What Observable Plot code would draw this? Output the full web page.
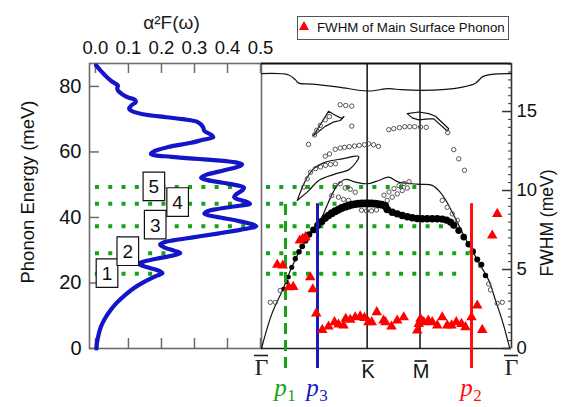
<!DOCTYPE html>
<html><head><meta charset="utf-8">
<script src="https://cdn.jsdelivr.net/npm/d3@7"></script>
<script src="https://cdn.jsdelivr.net/npm/@observablehq/plot@0.6"></script>
<style>
html,body{margin:0;padding:0;background:#fff;}
#chart{position:relative;width:567px;height:407px;overflow:hidden;background:#fff;}
#chart svg{position:absolute;left:0;top:0;}
#legend{position:absolute;left:297px;top:16px;width:212px;height:24px;border:1.5px solid #555;box-sizing:border-box;background:#fff;font:13.3px "Liberation Sans",Arial,sans-serif;color:#111;}
#legend .tri{position:absolute;left:1px;top:4px;width:0;height:0;border-left:5px solid transparent;border-right:5px solid transparent;border-bottom:9px solid #ff0000;}
#legend .txt{position:absolute;left:19px;top:3px;white-space:nowrap;}
</style></head><body><div id="chart"><div id="legend"><span class="tri"></span><span class="txt">FWHM of Main Surface Phonon</span></div></div>
<script>
// ---------- data ----------
const a2fEnergy = [0,2,4,6.5,9,11.6,14,16.7,18.5,20.2,21.5,22.3,23.0,23.6,24.6,25.8,26.5,27.4,28.4,29.1,29.8,30.9,31.7,32.3,33.0,34.0,35.0,36.0,36.7,37.3,37.9,39.0,40.2,41.1,41.9,42.6,43.5,44.2,44.9,45.6,46.2,47.2,48.3,49.1,49.8,50.6,51.4,52.1,53.0,54.4,55.6,56.2,56.8,57.6,58.5,59.4,60.3,61.5,62.8,63.7,64.5,65.3,66.4,67.6,69.1,70.0,70.6,71.6,72.5,73.2,74.3,75.2,75.9,76.6,77.3,78.8,79.5,80.3,81.5,82.8,84.9,86.4];
const a2fValue = [0.003,0.005,0.009,0.016,0.028,0.045,0.065,0.094,0.117,0.145,0.170,0.188,0.203,0.195,0.165,0.130,0.145,0.185,0.235,0.257,0.240,0.208,0.196,0.205,0.235,0.300,0.365,0.425,0.465,0.487,0.475,0.430,0.365,0.330,0.340,0.370,0.430,0.468,0.455,0.430,0.420,0.428,0.445,0.450,0.430,0.385,0.340,0.320,0.335,0.390,0.435,0.444,0.425,0.350,0.230,0.168,0.180,0.220,0.290,0.325,0.357,0.350,0.330,0.326,0.310,0.265,0.215,0.140,0.110,0.102,0.110,0.122,0.120,0.100,0.086,0.068,0.066,0.068,0.050,0.035,0.015,0.002];

const alphaTicks = [0, 0.1, 0.2, 0.3, 0.4, 0.5];
const energyTicks = [0, 20, 40, 60, 80];
const fwhmTicks = [0, 5, 10, 15];

const peakLabels = ["1","2","3","4","5"];
const peakEnergy = [22.8, 29.1, 37.3, 44.2, 49.3];
const peakAlpha = [0.204, 0.258, 0.488, 0.468, 0.450];
const boxAlpha = [0.035, 0.098, 0.181, 0.249, 0.177];
const boxEnergy = [23.0, 29.7, 37.8, 44.7, 49.5];
const peakLineEnd = [0.79, 0.816, 0.756, 0.37, 0.61];

const symNames = ["Γ","K","M","Γ"];
const symPos = [0, 0.4226, 0.634, 1];

const cutNames = ["1","3","2"];
const cutPos = [0.096, 0.224, 0.84];
const cutTop = 44.2;

const topBandQ = [0,0.109,0.136,0.149,0.203,0.309,0.425,0.509,0.56,0.637,0.723,0.804,0.856,0.885,0.92,1];
const topBandE = [83.9,83.5,82.0,81.0,80.7,79.8,78.6,79.3,79.0,78.8,79.0,79.8,81.0,83.0,83.7,83.9];

const domeQ = [0,0.041,0.088,0.121,0.16,0.20,0.235,0.261,0.285,0.305,0.335,0.376,0.425,0.469,0.509,0.549,0.603,0.637,0.683,0.716,0.736,0.763,0.789,0.816,0.843,0.869,0.909,0.936,0.963,0.983,0.993];
const domeE = [0,10.5,18.5,24.8,30.8,35.5,39.0,43.5,47.5,50.0,51.6,50.8,50.3,51.3,52.3,50.8,50.3,50.1,49.8,47.6,45.4,41.6,37.6,33.5,29.9,26.2,20.8,14.7,8.5,3.0,0];

const lensAQ = [0.208,0.238,0.268,0.30,0.32,0.33,0.315,0.29,0.255,0.225,0.208];
const lensAE = [65.0,68.7,72.4,71.0,70.3,70.8,69.6,69.2,67.8,66.0,65.0];
const lensBQ = [0.143,0.176,0.209,0.256,0.323,0.389,0.352,0.296,0.229,0.189,0.143];
const lensBE = [45.2,51.3,54.9,56.9,57.9,58.6,54.7,53.3,51.3,48.2,45.2];
const lensCQ = [0.583,0.629,0.669,0.696,0.749,0.743,0.689,0.669,0.629,0.603,0.583];
const lensCE = [71.7,72.2,71.7,70.9,67.1,66.4,70.1,70.1,69.8,70.4,71.7];

const openQ = [0.315,0.337,0.361,0.361,0.188,
  0.212,0.221,0.235,0.255,0.272,
  0.255,0.272,0.295,0.315,0.332,0.351,0.372,0.391,0.412,0.428,0.448,0.468,
  0.509,0.529,0.552,0.573,0.593,0.613,0.636,0.659,
  0.745,0.769,0.789,0.812,
  0.169,0.183,0.196,0.216,0.236,0.256,0.276,0.296,
  0.295,0.315,0.335,0.355,0.375,
  0.281,0.308,0.328,0.348,
  0.40,0.42,0.44,0.46,
  0.49,0.51,0.53,0.55,0.57,0.59,
  0.503,0.523,0.543,0.563,0.583,
  0.723,0.743,0.763,0.783,
  0.876,0.909,0.916,0.943,0.963,
  0.035,0.055,0.075];
const openE = [74.4,74.2,74.0,67.9,62.3,
  65.2,66.6,68.1,69.8,70.8,
  58.7,59.4,60.8,61.2,61.4,61.6,61.8,62.0,62.2,62.5,62.2,61.7,
  66.8,67.1,67.4,67.7,67.7,67.7,67.6,67.5,
  65.9,60.7,57.9,54.4,
  49.3,51.8,53.8,54.9,55.4,55.9,56.2,56.4,
  49.8,50.3,49.0,48.6,47.7,
  46.7,46.2,45.5,45.2,
  42.2,42.0,42.0,42.3,
  46.8,47.8,48.8,49.7,50.4,50.9,
  45.2,46.2,47.2,48.2,49.0,
  45.2,43.1,41.1,39.1,
  25.3,19.7,17.9,13.8,14.1,
  14.1,14.1,17.7];

const surfQ = [0.088,0.101,0.108,0.121,0.135,0.150,0.163,0.176,0.190,0.208,0.225,0.241,0.255,0.268,0.281,0.295,0.308,0.321,0.335,0.348,0.361,0.375,0.388,0.401,0.415,0.428,0.441,0.455,0.468,0.481,0.495,0.503,0.523,0.543,0.563,0.583,0.603,0.623,0.643,0.663,0.683,0.703,0.723,0.740,0.756,0.769,0.789,0.809,0.829,0.845,0.863,0.880,0.896];
const surfE = [18.2,20.3,21.8,24.8,27.4,29.5,31.2,33.0,34.8,36.2,37.6,38.8,39.8,40.6,41.3,41.9,42.4,42.9,43.3,43.6,43.9,44.1,44.2,44.3,44.3,44.3,44.3,44.2,44.1,43.9,43.5,42.4,41.6,41.1,40.6,40.2,39.9,39.7,39.6,39.6,39.6,39.6,39.5,39.2,38.6,37.6,36.0,34.0,31.8,29.6,27.2,25.6,22.3];
const surfWeight = [0.15,0.15,0.2,0.25,0.3,0.35,0.4,0.5,0.6,0.7,0.8,0.85,0.9,0.95,1,1,1,1,1,1,1,1,1,1,1,1,1,1,1,1,1,0.9,0.85,0.85,0.85,0.85,0.85,0.85,0.85,0.85,0.85,0.85,0.85,0.85,0.8,0.75,0.7,0.65,0.6,0.55,0.45,0.35,0.3];

const fwhmQ = [0.063,0.085,0.109,0.127,0.153,0.165,0.176,0.195,0.205,0.219,0.243,0.268,0.292,0.308,0.328,0.337,0.355,0.375,0.395,0.412,0.428,0.441,0.461,0.488,0.496,0.52,0.543,0.569,0.623,0.629,0.636,0.649,0.667,0.683,0.703,0.723,0.743,0.76,0.779,0.8,0.816,0.84,0.863,0.883,0.923,0.943];
const fwhmVal = [5.3,5.25,3.88,3.9,6.84,6.95,7.05,4.51,3.75,2.22,1.18,1.39,1.67,1.52,1.46,1.88,1.82,1.98,2.03,1.94,1.67,1.67,2.30,1.77,1.67,1.39,1.77,1.98,1.14,1.56,1.88,1.67,1.77,1.67,1.46,1.98,1.46,1.46,1.67,1.56,1.35,1.98,2.72,1.18,7.15,8.52];

// ---------- styles ----------
const SANS = '"Liberation Sans", Arial, Helvetica, sans-serif';
const SERIF = '"Liberation Serif", "Times New Roman", serif';
const GREEN = "#16a316", BLUE = "#1414c8", RED = "#ff1010", GREY = "#6c6c6c";
const cutColor = {"1": GREEN, "3": "#1a1ab8", "2": RED};

const W = 567, H = 407;
const MT = 63, MB = 59;
const E_MAX = 87.0, F_MAX = 18.04;

const a2f = a2fEnergy.map((e, i) => ({e, a: a2fValue[i]}));
const peaks = peakLabels.map((l, i) => ({l, e: peakEnergy[i], a: peakAlpha[i], ba: boxAlpha[i], be: boxEnergy[i], end: peakLineEnd[i]}));
const syms = symNames.map((s, i) => ({s, q: symPos[i]}));
const cuts = cutNames.map((n, i) => ({n, q: cutPos[i], top: cutTop}));
const dashedCuts = cuts.filter(d => d.n === "1");
const solidCuts = cuts.filter(d => d.n !== "1");
const line = (Q, E) => Q.map((q, i) => ({q, e: E[i]}));
const opens = line(openQ, openE);
const surf = surfQ.map((q, i) => ({q, e: surfE[i], w: surfWeight[i]}));
const fw = fwhmQ.map((q, i) => ({q, f: fwhmVal[i]}));
const gammas = syms.filter(d => d.s === "Γ");
const others = syms.filter(d => d.s !== "Γ");

const boxSymbol = {draw(ctx) { ctx.moveTo(-10.8,-14.3); ctx.lineTo(10.8,-14.3); ctx.lineTo(10.8,14.3); ctx.lineTo(-10.8,14.3); ctx.closePath(); }};

const baseStyle = {background: "transparent", overflow: "visible", fontFamily: SANS, fontSize: "20px", color: "#111"};

// ---------- left panel: α²F(ω) ----------
const leftMR = 306, leftML = 89;
const leftFW = W - leftML - leftMR;
const leftPlot = Plot.plot({
  width: W, height: H, marginLeft: leftML, marginRight: leftMR, marginTop: MT, marginBottom: MB,
  style: baseStyle,
  x: {domain: [-0.018, 0.503], axis: null},
  y: {domain: [0, E_MAX], axis: null},
  marks: [
    Plot.ruleY(peaks, {y: "e", x1: "a", stroke: GREEN, strokeWidth: 4, strokeDasharray: "4,9.3"}),
    Plot.frame({stroke: GREY, strokeWidth: 1.6}),
    Plot.tickX(alphaTicks, {x: d => d, insetBottom: (H - MT - MB) - 10, stroke: GREY, strokeWidth: 1.5}),
    Plot.tickX(alphaTicks, {x: d => d, insetTop: (H - MT - MB) - 10, stroke: GREY, strokeWidth: 1.5}),
    Plot.tickY(energyTicks, {y: d => d, insetRight: leftFW - 10, stroke: GREY, strokeWidth: 1.5}),
    Plot.line(a2f, {x: "a", y: "e", stroke: BLUE, strokeWidth: 4.2, curve: "catmull-rom"}),
    Plot.dot(peaks, {x: "ba", y: "be", symbol: boxSymbol, fill: "white", stroke: "#111", strokeWidth: 1.2}),
    Plot.text(peaks, {x: "ba", y: "be", text: "l", fontSize: 19, fill: "#111", dy: 1, lineAnchor: "middle"}),
    Plot.text(alphaTicks, {x: d => d, text: d => d.toFixed(1), frameAnchor: "top", lineAnchor: "middle", textAnchor: "middle", dy: -15, fontSize: 18.5, fill: "#111"}),
    Plot.text(energyTicks, {y: d => d, text: d => String(d), frameAnchor: "left", lineAnchor: "middle", dx: -8, textAnchor: "end", fontSize: 20, fill: "#111"}),
    Plot.text(["α²F(ω)"], {text: d => d, frameAnchor: "top", lineAnchor: "middle", textAnchor: "middle", dx: -4, dy: -41, fontSize: 19, fill: "#222"}),
    Plot.text(["Phonon Energy (meV)"], {text: d => d, frameAnchor: "left", lineAnchor: "middle", textAnchor: "middle", dx: -61, dy: -14, rotate: -90, fontSize: 18.5, fill: "#111"})
  ]
});

// ---------- right panel: dispersion ----------
const rightML = 261, rightMR = 56;
const rightPlot = Plot.plot({
  width: W, height: H, marginLeft: rightML, marginRight: rightMR, marginTop: MT, marginBottom: MB,
  style: baseStyle,
  x: {domain: [0, 1], axis: null},
  y: {domain: [0, E_MAX], axis: null},
  r: {domain: [0, 1], range: [1.2, 3.9]},
  marks: [
    Plot.ruleY(peaks, {y: "e", x1: 0, x2: "end", stroke: GREEN, strokeWidth: 4, strokeDasharray: "4,9.3", dx: 5}),
    Plot.ruleX(symPos.slice(1, 3), {stroke: "#111", strokeWidth: 1.5}),
    Plot.ruleY([E_MAX], {stroke: "#111", strokeWidth: 2}),
    Plot.ruleY([0], {stroke: "#222", strokeWidth: 1.6}),
    Plot.ruleX([1], {stroke: "#333", strokeWidth: 1.6}),
    Plot.line(line(topBandQ, topBandE), {x: "q", y: "e", stroke: "#111", strokeWidth: 1.2, curve: "catmull-rom"}),
    Plot.line(line(domeQ, domeE), {x: "q", y: "e", stroke: "#111", strokeWidth: 1.2, curve: "catmull-rom"}),
    Plot.line(line(lensAQ, lensAE), {x: "q", y: "e", stroke: "#111", strokeWidth: 1.2, curve: "linear"}),
    Plot.line(line(lensBQ, lensBE), {x: "q", y: "e", stroke: "#111", strokeWidth: 1.2, curve: "catmull-rom"}),
    Plot.line(line(lensCQ, lensCE), {x: "q", y: "e", stroke: "#111", strokeWidth: 1.2, curve: "linear"}),
    Plot.dot(opens, {x: "q", y: "e", r: 2.2, stroke: "#555", strokeWidth: 1, fill: "none"}),
    Plot.dot(surf, {x: "q", y: "e", r: "w", fill: "#000", stroke: "none"}),
    Plot.ruleX(dashedCuts, {x: "q", y1: 0, y2: "top", insetTop: 20, stroke: GREEN, strokeWidth: 3, strokeDasharray: "11,6"}),
    Plot.ruleX(solidCuts, {x: "q", y1: 0, y2: "top", insetTop: 20, stroke: d => cutColor[d.n], strokeWidth: 3}),
    // symmetry-point labels with overbars
    Plot.ruleY(gammas, {y: 0, x1: "q", x2: "q", insetLeft: -7, insetRight: -7, dy: 7, stroke: "#222", strokeWidth: 1.6}),
    Plot.ruleY(others, {y: 0, x1: "q", x2: "q", insetLeft: -6, insetRight: -6, dx: 1, dy: 12.5, stroke: "#111", strokeWidth: 1.6}),
    Plot.text(gammas, {x: "q", text: "s", frameAnchor: "bottom", lineAnchor: "middle", dy: 19, fontFamily: SERIF, fontSize: 24, fill: "#222"}),
    Plot.text(others, {x: "q", text: "s", frameAnchor: "bottom", lineAnchor: "middle", dx: 1, dy: 23.5, fontSize: 20, fill: "#111"}),
    Plot.text(cuts, {x: "q", text: () => "p", frameAnchor: "bottom", lineAnchor: "middle", dx: -5, dy: 39, fontFamily: SERIF, fontStyle: "italic", fontSize: 25, fill: d => cutColor[d.n]}),
    Plot.text(cuts, {x: "q", text: "n", frameAnchor: "bottom", lineAnchor: "middle", dx: 6, dy: 47.5, fontFamily: SERIF, fontSize: 17, fill: d => cutColor[d.n]})
  ]
});

// ---------- FWHM overlay ----------
const rightFW = W - rightML - rightMR;
const fwPlot = Plot.plot({
  width: W, height: H, marginLeft: rightML, marginRight: rightMR, marginTop: MT, marginBottom: MB,
  style: baseStyle,
  x: {domain: [0, 1], axis: null},
  y: {domain: [0, F_MAX], axis: null},
  marks: [
    Plot.tickY(d3.range(0.5, F_MAX, 0.5), {y: d => d, insetLeft: rightFW - 3, stroke: "#333", strokeWidth: 1}),
    Plot.tickY(fwhmTicks, {y: d => d, insetLeft: rightFW - 9, stroke: "#333", strokeWidth: 1.5}),
    Plot.dot(fw, {x: "q", y: "f", symbol: "triangle", r: 3.9, fill: "#ff0000", stroke: "none"}),
    Plot.text(fwhmTicks, {y: d => d, text: d => String(d), frameAnchor: "right", lineAnchor: "middle", dx: 5, textAnchor: "start", fontSize: 18.5, fill: "#111"}),
    Plot.text(["FWHM (meV)"], {text: d => d, frameAnchor: "right", lineAnchor: "middle", textAnchor: "middle", dx: 36, dy: 17, rotate: -90, fontSize: 17.5, fill: "#111"})
  ]
});

const chart = document.getElementById("chart");
const legend = document.getElementById("legend");
chart.insertBefore(leftPlot, legend);
chart.insertBefore(rightPlot, legend);
chart.insertBefore(fwPlot, legend);
</script></body></html>
